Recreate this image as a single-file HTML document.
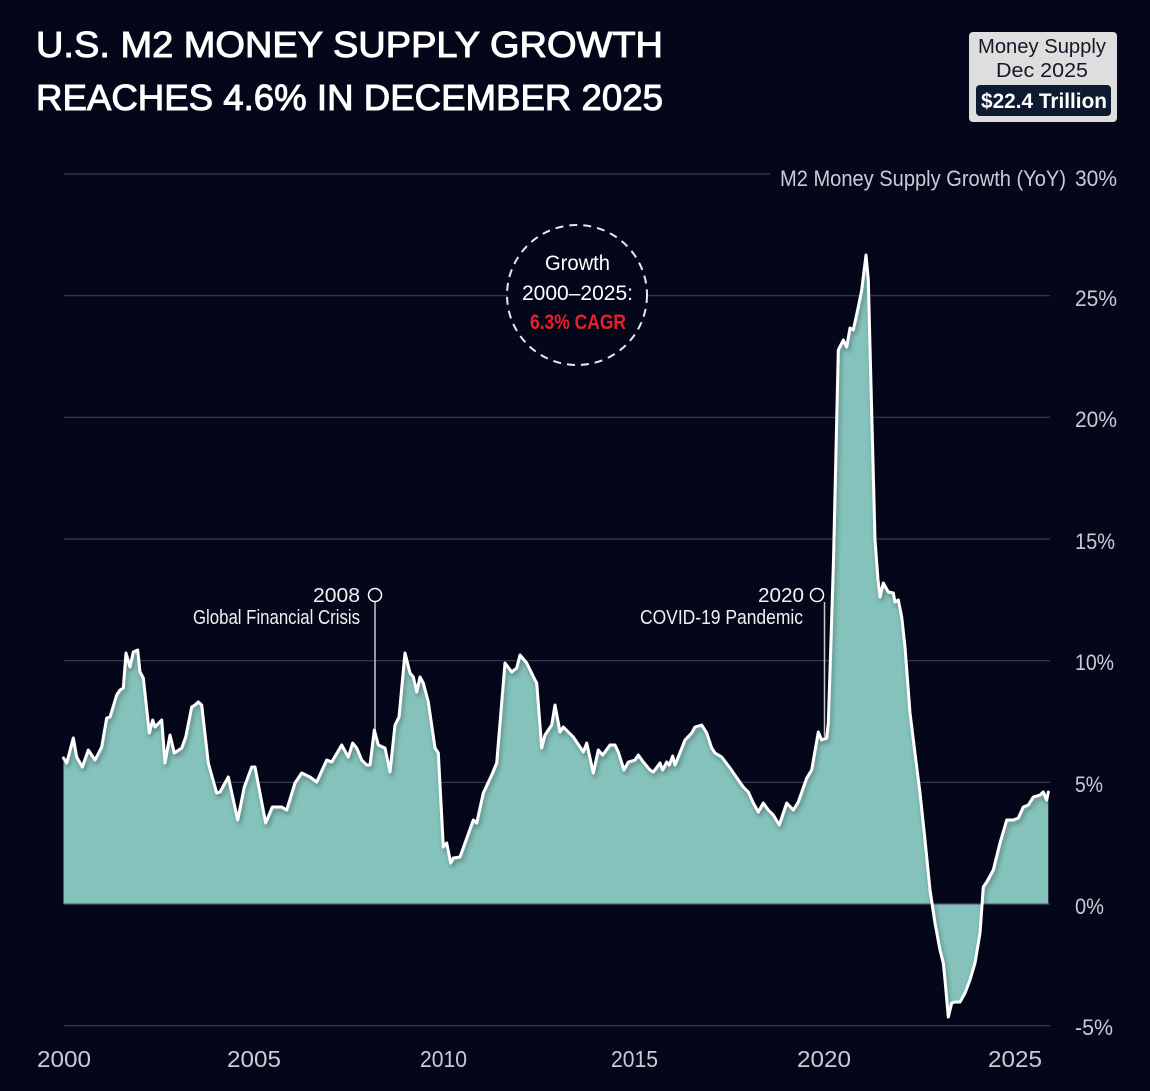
<!DOCTYPE html>
<html>
<head>
<meta charset="utf-8">
<style>
  html,body{margin:0;padding:0;background:#04071a;}
  svg{display:block;}
  text{font-family:"Liberation Sans","DejaVu Sans",sans-serif;}
</style>
</head>
<body>
<svg width="1150" height="1091" viewBox="0 0 1150 1091" xmlns="http://www.w3.org/2000/svg">
  <defs>
    <filter id="sh" x="-5%" y="-5%" width="110%" height="110%">
      <feDropShadow dx="1.5" dy="3" stdDeviation="2.5" flood-color="#000" flood-opacity="0.35"/>
    </filter>
  </defs>
  <rect x="0" y="0" width="1150" height="1091" fill="#04071a"/>

  <!-- Title -->
  <text x="36" y="57" font-size="36" fill="#ffffff" stroke="#ffffff" stroke-width="1" textLength="627" lengthAdjust="spacingAndGlyphs">U.S. M2 MONEY SUPPLY GROWTH</text>
  <text x="36" y="110" font-size="36" fill="#ffffff" stroke="#ffffff" stroke-width="1" textLength="627" lengthAdjust="spacingAndGlyphs">REACHES 4.6% IN DECEMBER 2025</text>

  <!-- Top-right box -->
  <rect x="969" y="32" width="148" height="90" rx="4" fill="#dedede"/>
  <text x="1042" y="53" font-size="20" fill="#141826" text-anchor="middle" textLength="128" lengthAdjust="spacingAndGlyphs">Money Supply</text>
  <text x="1042" y="77" font-size="20" fill="#141826" text-anchor="middle" textLength="92" lengthAdjust="spacingAndGlyphs">Dec 2025</text>
  <rect x="976" y="85" width="135" height="31" rx="4" fill="#0d1a30"/>
  <text x="1044" y="108" font-size="21" font-weight="bold" fill="#ffffff" text-anchor="middle" textLength="126" lengthAdjust="spacingAndGlyphs">$22.4 Trillion</text>

  <!-- Gridlines -->
  <g stroke="#3a3e52" stroke-width="1.2">
    <line x1="64" y1="174" x2="770" y2="174"/>
    <line x1="64" y1="295.7" x2="1050" y2="295.7"/>
    <line x1="64" y1="417.3" x2="1050" y2="417.3"/>
    <line x1="64" y1="539" x2="1050" y2="539"/>
    <line x1="64" y1="660.7" x2="1050" y2="660.7"/>
    <line x1="64" y1="782.3" x2="1050" y2="782.3"/>
    <line x1="64" y1="904" x2="1050" y2="904"/>
    <line x1="64" y1="1025.7" x2="1050" y2="1025.7"/>
  </g>

  <!-- Y labels -->
  <g font-size="22" fill="#c9ccd4">
    <text x="780" y="186" textLength="286" lengthAdjust="spacingAndGlyphs">M2 Money Supply Growth (YoY)</text>
    <text x="1075" y="186" textLength="42" lengthAdjust="spacingAndGlyphs">30%</text>
    <text x="1075" y="306" textLength="42" lengthAdjust="spacingAndGlyphs">25%</text>
    <text x="1075" y="427" textLength="42" lengthAdjust="spacingAndGlyphs">20%</text>
    <text x="1075" y="549" textLength="40" lengthAdjust="spacingAndGlyphs">15%</text>
    <text x="1075" y="670" textLength="39" lengthAdjust="spacingAndGlyphs">10%</text>
    <text x="1075" y="792" textLength="28" lengthAdjust="spacingAndGlyphs">5%</text>
    <text x="1075" y="914" textLength="29" lengthAdjust="spacingAndGlyphs">0%</text>
    <text x="1075" y="1035" textLength="38" lengthAdjust="spacingAndGlyphs">-5%</text>
  </g>

  <!-- X labels -->
  <g font-size="23" fill="#c9ccd4" text-anchor="middle">
    <text x="64" y="1067" textLength="54" lengthAdjust="spacingAndGlyphs">2000</text>
    <text x="254" y="1067" textLength="54" lengthAdjust="spacingAndGlyphs">2005</text>
    <text x="443.5" y="1067" textLength="47" lengthAdjust="spacingAndGlyphs">2010</text>
    <text x="634.5" y="1067" textLength="47" lengthAdjust="spacingAndGlyphs">2015</text>
    <text x="824" y="1067" textLength="54" lengthAdjust="spacingAndGlyphs">2020</text>
    <text x="1015" y="1067" textLength="54" lengthAdjust="spacingAndGlyphs">2025</text>
  </g>

  <!-- Area fill -->
  <path fill="#85c2bc" d="M63.5,904 L63.5,758 66.7,763 73.3,738 76.7,757 82.3,767 88.3,750 95,760 101.7,747 106.7,718 110,717 116.7,695 120,690 123.3,688 126,653 130,667 133.3,652 137.7,650 140,672 143.3,678 149.3,733 152.7,720 155,727 161.7,720 165,763 170,735 174.3,753 181.7,748 185.7,737 191.7,707 195,705 198.3,702 201.7,705 208.3,763 216.7,793 220,792 228.3,777 237.7,820 244.3,787 251.7,767 255,767 265.7,823 272.3,807 281.7,807 286.7,810 295,783 301.7,773 310,777 316.7,782 326.7,760 331.7,762 341.7,745 348.3,757 352.7,743 356.7,748 361.7,760 366.7,765 370,765 374.3,730 378.3,745 385,748 390,772 395,725 399,717 405,653 410,673 413.3,677 416.7,692 420,677 423.3,683 428.3,702 435,748 438.3,753 443.3,847 446.7,843 450.7,863 453.3,858 460,857 473.3,820 476.7,823 483.3,793 491.7,775 496.7,763 505,663 511.7,672 516.7,668 520,655 526.7,663 535,680 536.7,683 541.7,748 545,735 551.7,725 555,705 560,732 563.3,727 573.3,737 583.3,752 586.7,743 593.3,773 598.3,750 602.7,755 610,745 615,745 618.3,752 624,770 628.3,762 635,760 638.3,755 643.3,762 650,770 653.3,772 660,763 662.7,770 666.7,762 669.3,765 672.7,756 675,765 685,740 691.7,733 695,727 701.7,725 706.7,733 711.7,748 715,753 721.7,757 730,768 738.3,780 743.3,787 748.3,792 753.3,803 758.3,812 763.3,803 768.3,810 773.3,815 779.3,825 786.7,803 793.3,810 798.3,802 806.7,778 811.7,770 818.3,732 821.7,740 826.7,738 828.3,723 831,640 833.5,560 838.3,350 843.3,340 846.7,347 850,328 853.3,330 858.3,307 861.7,290 866,255 868.3,280 870,347 875,540 878,580 880,597 883.3,583 888.3,592 893.3,593 895,602 898.3,600 901.7,617 905,647 910,713 916.7,767 920,793 925,840 930,890 935,923 940,950 943.3,963 945,980 948.3,1017 951.7,1003 955,1002 960,1002 965,993 970,980 975,963 980,933 983.3,887 986.7,882 993.3,870 1000,843 1006.7,820 1013.3,820 1018.3,818 1023.3,807 1028.3,805 1033.3,797 1040,795 1043.3,792 1046.7,800 1048.3,792 L1048.3,904 Z"/>

  <!-- zero line over fill -->
  <line x1="64" y1="904" x2="1049" y2="904" stroke="#4a5064" stroke-width="1.2" opacity="0.8"/>

  <!-- Annotation lines -->
  <line x1="375" y1="602" x2="375" y2="731" stroke="#c8c8cc" stroke-width="1.5"/>
  <line x1="824.5" y1="602" x2="824.5" y2="737" stroke="#c8c8cc" stroke-width="1.5"/>

  <!-- Series line -->
  <polyline filter="url(#sh)" fill="none" stroke="#ffffff" stroke-width="3" stroke-linejoin="round" stroke-linecap="round" points="63.5,758 66.7,763 73.3,738 76.7,757 82.3,767 88.3,750 95,760 101.7,747 106.7,718 110,717 116.7,695 120,690 123.3,688 126,653 130,667 133.3,652 137.7,650 140,672 143.3,678 149.3,733 152.7,720 155,727 161.7,720 165,763 170,735 174.3,753 181.7,748 185.7,737 191.7,707 195,705 198.3,702 201.7,705 208.3,763 216.7,793 220,792 228.3,777 237.7,820 244.3,787 251.7,767 255,767 265.7,823 272.3,807 281.7,807 286.7,810 295,783 301.7,773 310,777 316.7,782 326.7,760 331.7,762 341.7,745 348.3,757 352.7,743 356.7,748 361.7,760 366.7,765 370,765 374.3,730 378.3,745 385,748 390,772 395,725 399,717 405,653 410,673 413.3,677 416.7,692 420,677 423.3,683 428.3,702 435,748 438.3,753 443.3,847 446.7,843 450.7,863 453.3,858 460,857 473.3,820 476.7,823 483.3,793 491.7,775 496.7,763 505,663 511.7,672 516.7,668 520,655 526.7,663 535,680 536.7,683 541.7,748 545,735 551.7,725 555,705 560,732 563.3,727 573.3,737 583.3,752 586.7,743 593.3,773 598.3,750 602.7,755 610,745 615,745 618.3,752 624,770 628.3,762 635,760 638.3,755 643.3,762 650,770 653.3,772 660,763 662.7,770 666.7,762 669.3,765 672.7,756 675,765 685,740 691.7,733 695,727 701.7,725 706.7,733 711.7,748 715,753 721.7,757 730,768 738.3,780 743.3,787 748.3,792 753.3,803 758.3,812 763.3,803 768.3,810 773.3,815 779.3,825 786.7,803 793.3,810 798.3,802 806.7,778 811.7,770 818.3,732 821.7,740 826.7,738 828.3,723 831,640 833.5,560 838.3,350 843.3,340 846.7,347 850,328 853.3,330 858.3,307 861.7,290 866,255 868.3,280 870,347 875,540 878,580 880,597 883.3,583 888.3,592 893.3,593 895,602 898.3,600 901.7,617 905,647 910,713 916.7,767 920,793 925,840 930,890 935,923 940,950 943.3,963 945,980 948.3,1017 951.7,1003 955,1002 960,1002 965,993 970,980 975,963 980,933 983.3,887 986.7,882 993.3,870 1000,843 1006.7,820 1013.3,820 1018.3,818 1023.3,807 1028.3,805 1033.3,797 1040,795 1043.3,792 1046.7,800 1048.3,792"/>

  <!-- Annotation circles and text -->
  <circle cx="375" cy="595" r="6.5" fill="#04071a" stroke="#ffffff" stroke-width="1.5"/>
  <circle cx="817" cy="595" r="6.5" fill="#04071a" stroke="#ffffff" stroke-width="1.5"/>
  <g font-size="20" fill="#f2f2f2">
    <text x="313" y="602" textLength="47" lengthAdjust="spacingAndGlyphs">2008</text>
    <text x="193" y="624" textLength="167" lengthAdjust="spacingAndGlyphs">Global Financial Crisis</text>
    <text x="758" y="602" textLength="46" lengthAdjust="spacingAndGlyphs">2020</text>
    <text x="640" y="624" textLength="163" lengthAdjust="spacingAndGlyphs">COVID-19 Pandemic</text>
  </g>

  <!-- CAGR callout -->
  <circle cx="577" cy="295" r="70" fill="#04071a" stroke="#e8e8ec" stroke-width="2" stroke-dasharray="8 6"/>
  <g font-size="21" text-anchor="middle">
    <text x="577.5" y="270" fill="#ffffff" textLength="65" lengthAdjust="spacingAndGlyphs">Growth</text>
    <text x="577.5" y="300" fill="#ffffff" textLength="111" lengthAdjust="spacingAndGlyphs">2000–2025:</text>
    <text x="578" y="329" fill="#e8202a" font-weight="bold" textLength="96" lengthAdjust="spacingAndGlyphs">6.3% CAGR</text>
  </g>
</svg>
</body>
</html>
